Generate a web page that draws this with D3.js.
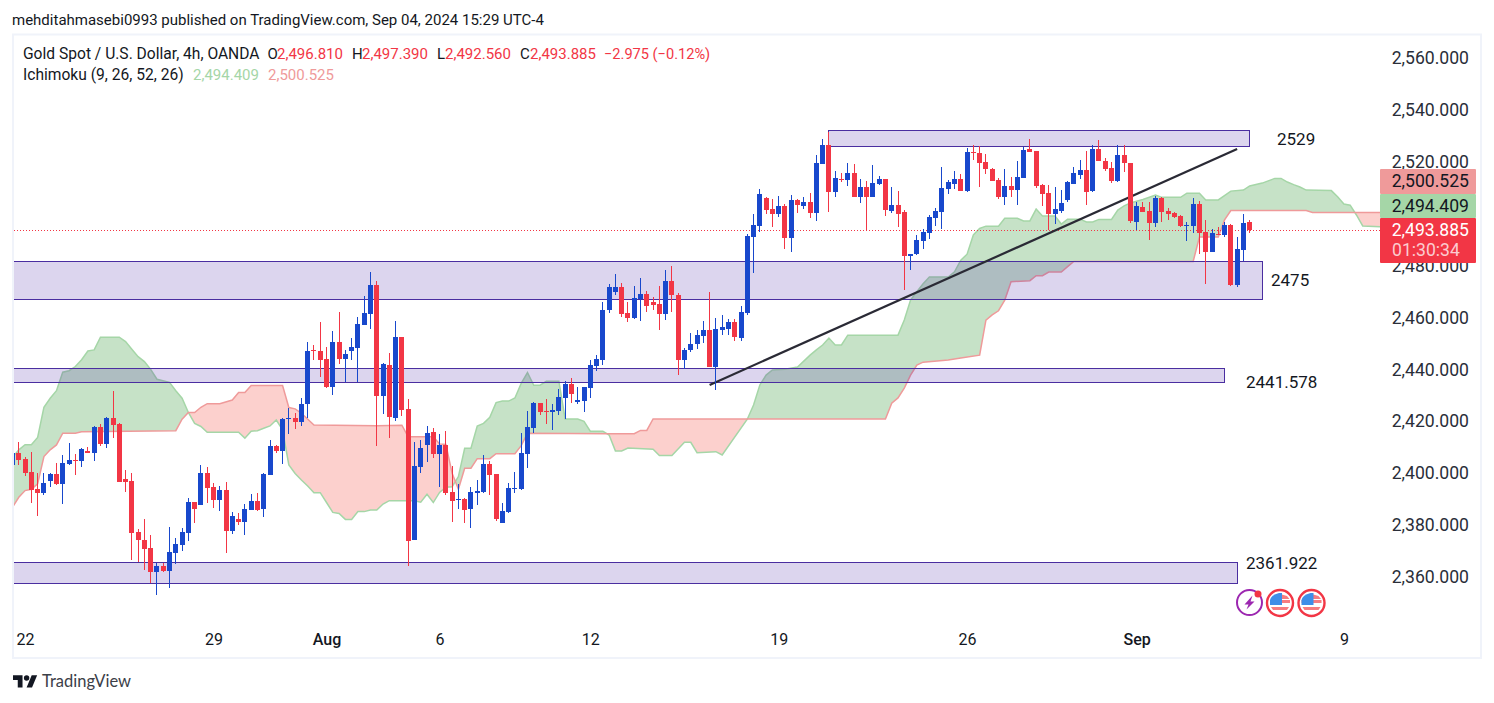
<!DOCTYPE html>
<html>
<head>
<meta charset="utf-8">
<style>
    html, body { margin: 0; padding: 0; background: #fff; }
    svg { display: block; }
    text { font-family: Roboto, sans-serif; fill: #131722; }
    .axis .domain, .axis line { display: none; }
</style>
<script src="https://cdn.jsdelivr.net/npm/d3@7"></script>
</head>
<body>
<div id="chart"></div>
<script>
// first entry of the candle arrays is bar -1 (cut off by the left edge)
var firstBar = -1;

var opens = [2403.3,2407.8,2405.5,2400.5,2393.9,2392.5,2397.1,2399.7,2396.0,2403.7,2405.1,2404.8,2408.6,2407.9,2417.8,2411.4,2421.3,2419.0,2397.8,2397.0,
    2377.4,2374.3,2371.2,2362.1,2364.2,2362.4,2369.4,2372.5,2377.1,2388.9,2387.9,2400.1,2394.7,2389.8,2393.5,2377.9,2382.4,2381.3,2385.8,2389.3,
    2386.3,2399.4,2410.5,2408.7,2421.0,2421.3,2419.9,2426.8,2447.5,2447.1,2444.0,2433.4,2450.6,2444.2,2446.9,2448.4,2457.3,2461.5,2472.6,2429.9,
    2441.7,2421.4,2452.5,2424.8,2374.3,2402.5,2410.9,2415.9,2407.5,2410.9,2392.8,2389.8,2390.1,2386.3,2392.5,2392.8,2403.5,2399.7,2380.9,2385.2,
    2394.0,2394.0,2407.5,2417.6,2427.1,2424.0,2423.4,2424.1,2429.1,2434.4,2427.5,2428.0,2433.0,2441.3,2443.8,2462.7,2469.9,2471.8,2461.8,2459.8,
    2467.0,2469.1,2466.0,2465.2,2461.5,2474.1,2468.7,2443.8,2447.6,2449.6,2453.0,2455.2,2440.8,2455.3,2455.6,2458.3,2452.1,2461.8,2491.1,2495.2,
    2506.0,2501.8,2499.9,2502.9,2490.6,2505.3,2502.9,2504.5,2500.2,2519.1,2526.5,2508.3,2513.4,2513.0,2515.7,2506.4,2510.3,2506.4,2511.4,2513.4,
    2501.0,2503.3,2500.6,2483.7,2484.4,2489.5,2492.5,2498.3,2500.6,2509.5,2511.4,2513.4,2508.7,2523.8,2523.4,2519.9,2517.2,2513.0,2506.4,2510.7,
    2509.1,2513.7,2524.9,2524.1,2511.0,2508.0,2499.9,2501.0,2505.3,2511.4,2514.9,2516.8,2508.7,2524.9,2520.3,2517.6,2512.6,2522.8,2519.5,2496.8,
    2502.6,2501.0,2496.4,2506.1,2501.0,2500.3,2499.1,2495.3,2495.3,2503.7,2493.0,2485.2,2492.2,2491.8,2495.7,2472.5,2486.0,2496.81];

var closes = [2407.8,2405.2,2400.2,2393.7,2392.5,2396.2,2399.7,2396.0,2403.9,2405.1,2404.8,2409.3,2407.9,2417.8,2411.3,2421.3,2418.7,2396.7,2396.7,2377.1,
    2374.4,2370.9,2362.1,2364.2,2362.4,2369.6,2372.7,2377.4,2388.9,2386.3,2400.1,2394.4,2389.8,2393.5,2377.9,2383.5,2381.3,2386.2,2389.3,2385.8,
    2399.7,2410.5,2408.7,2420.9,2421.3,2419.9,2426.7,2447.1,2447.2,2443.8,2433.2,2450.6,2444.2,2446.0,2448.7,2457.5,2461.8,2472.6,2429.9,2442.1,
    2421.8,2452.5,2424.5,2374.0,2402.8,2409.7,2415.5,2407.5,2410.9,2392.5,2389.4,2390.1,2386.0,2392.8,2393.2,2403.5,2399.4,2382.5,2385.4,2394.3,
    2394.3,2407.8,2417.8,2427.1,2423.4,2423.7,2424.4,2429.4,2434.4,2430.7,2428.2,2433.2,2441.7,2444.0,2462.9,2471.8,2471.8,2461.5,2459.8,2467.6,
    2469.1,2464.6,2465.0,2461.5,2474.1,2468.5,2443.8,2447.5,2449.8,2453.3,2455.2,2440.8,2455.6,2456.4,2458.3,2452.3,2462.2,2491.4,2495.6,2507.6,
    2501.4,2499.9,2502.9,2490.6,2505.3,2503.3,2504.5,2500.2,2519.5,2526.5,2508.3,2513.7,2513.0,2515.7,2506.4,2510.3,2506.4,2511.8,2513.4,2501.4,
    2503.3,2499.9,2483.7,2484.4,2489.8,2492.9,2498.7,2501.0,2509.9,2512.2,2513.4,2508.7,2523.8,2523.4,2519.5,2517.2,2512.6,2506.4,2510.7,2509.1,
    2514.1,2524.5,2523.8,2510.7,2507.6,2499.9,2501.8,2504.1,2512.2,2515.7,2516.8,2508.3,2524.9,2520.3,2517.2,2512.6,2522.6,2519.5,2497.3,2503.0,
    2500.7,2496.4,2506.1,2500.7,2499.9,2498.7,2495.3,2495.7,2503.7,2492.6,2485.2,2492.6,2491.8,2495.7,2472.5,2486.4,2496.4,2493.885];

var highs = [2409.0,2412.0,2406.4,2408.2,2400.0,2400.0,2400.1,2403.9,2407.0,2411.7,2407.4,2409.6,2410.1,2418.2,2419.0,2421.7,2431.7,2419.4,2401.2,2400.1,
    2378.5,2382.4,2376.2,2365.5,2365.5,2379.3,2375.0,2378.9,2390.5,2388.9,2403.2,2402.4,2396.2,2395.1,2396.6,2385.1,2384.7,2388.1,2392.0,2392.4,
    2400.1,2412.8,2410.9,2421.2,2425.1,2423.2,2429.0,2450.6,2449.4,2458.3,2448.7,2454.8,2462.2,2447.5,2452.1,2460.2,2468.3,2477.6,2474.1,2442.5,
    2446.3,2458.7,2452.5,2428.6,2412.0,2412.8,2418.2,2417.4,2415.1,2416.3,2402.8,2395.8,2390.5,2394.7,2397.4,2407.0,2404.7,2399.7,2388.5,2396.2,
    2400.5,2415.5,2424.0,2427.5,2427.1,2428.6,2426.7,2432.5,2435.6,2436.7,2433.2,2433.2,2443.7,2445.6,2466.0,2472.9,2476.8,2473.3,2466.0,2472.2,
    2475.3,2470.2,2467.9,2472.2,2478.3,2479.9,2469.5,2448.3,2454.1,2455.2,2458.7,2469.9,2459.8,2461.0,2459.5,2459.5,2464.5,2492.2,2499.9,2509.5,
    2506.4,2505.6,2506.8,2503.7,2507.2,2505.6,2506.4,2508.0,2522.6,2528.8,2531.5,2516.4,2515.7,2519.5,2519.1,2513.4,2512.6,2518.8,2514.5,2513.4,
    2510.3,2508.7,2501.4,2484.4,2491.8,2494.1,2499.5,2502.2,2518.0,2513.0,2516.4,2515.3,2525.3,2526.5,2526.1,2523.0,2517.6,2513.7,2517.2,2514.1,
    2520.3,2525.7,2528.8,2524.1,2511.4,2511.0,2510.3,2509.1,2512.6,2518.0,2520.7,2524.1,2526.5,2528.4,2521.5,2519.9,2526.5,2526.6,2519.5,2504.5,
    2504.5,2504.5,2506.8,2506.4,2502.2,2500.7,2499.5,2496.8,2506.1,2504.9,2497.6,2494.1,2494.9,2496.8,2496.0,2491.0,2499.9,2497.39];

var lows = [2402.0,2403.3,2399.1,2388.7,2383.6,2391.7,2394.8,2395.5,2388.3,2403.3,2399.4,2402.5,2407.8,2404.8,2410.6,2409.9,2413.7,2396.7,2392.9,2366.7,
    2365.7,2362.7,2357.6,2353.2,2362.1,2355.9,2365.1,2370.1,2374.0,2380.9,2387.9,2388.7,2386.7,2385.6,2369.4,2376.7,2380.2,2376.3,2385.8,2385.6,
    2383.3,2399.4,2407.9,2403.7,2415.2,2417.2,2418.0,2421.4,2443.8,2437.2,2432.9,2430.3,2442.2,2435.2,2443.7,2435.2,2457.3,2455.7,2410.6,2422.8,
    2413.7,2420.3,2422.2,2364.4,2374.3,2400.2,2404.5,2406.0,2394.8,2391.7,2381.3,2386.3,2380.9,2379.0,2387.9,2392.5,2391.7,2381.7,2380.9,2384.8,
    2392.5,2393.7,2402.1,2415.6,2422.6,2419.1,2416.8,2422.6,2421.0,2427.2,2426.8,2423.7,2429.1,2439.5,2441.8,2461.9,2468.5,2460.1,2458.4,2459.3,
    2458.8,2462.3,2462.7,2455.3,2459.2,2462.3,2438.0,2440.3,2446.6,2448.0,2450.3,2440.8,2432.2,2453.4,2453.3,2450.8,2450.8,2460.9,2477.1,2493.1,
    2499.9,2494.9,2498.7,2486.4,2485.2,2500.2,2501.8,2498.3,2497.2,2519.1,2500.6,2506.4,2512.2,2510.7,2506.4,2504.1,2493.6,2506.4,2511.0,2499.1,
    2500.2,2494.9,2470.6,2478.3,2484.1,2486.4,2490.2,2495.2,2494.1,2507.6,2509.5,2508.7,2508.3,2520.7,2510.3,2515.3,2512.6,2505.6,2503.3,2506.4,
    2503.3,2513.7,2523.6,2509.9,2502.9,2493.7,2496.0,2500.2,2504.5,2511.4,2513.4,2503.3,2508.3,2520.3,2516.4,2511.8,2512.1,2516.1,2496.6,2493.7,
    2500.7,2489.9,2494.9,2496.8,2497.6,2498.4,2494.9,2489.5,2492.6,2484.5,2472.9,2485.2,2491.8,2491.0,2472.1,2471.8,2481.6,2492.56];

// Ichimoku leading spans, turning points only, bar number and price
var spanABars = [-2,-1,0,1,2,3,4,5,6,7,8,9,10,11,12,13,16,17,18,19,20,21,22,24,25,26,27,28,29,30,35,36,37,38,39,40,41,42,43,44,45,46,47,48,49,50,51,52,53,54,55,56,57,
    58,59,63,64,65,66,67,68,69,70,71,72,73,74,75,76,77,78,79,80,81,82,83,84,86,87,89,90,91,93,94,95,96,97,101,102,104,106,107,108,111,112,116,
    117,118,119,120,122,124,126,127,128,129,130,131,132,140,141,142,143,144,145,148,149,150,151,152,153,154,156,157,159,160,161,162,163,165,166,167,169,170,171,172,174,175,
    176,177,179,181,182,185,186,188,189,191,193,195,196,198,200,201,202,203,204,205,209,210,211,212,213,214,222];
var spanA = [2403.0,2406.0,2409.0,2411.0,2411.0,2413.8,2425.4,2428.9,2431.8,2438.9,2439.5,2441.1,2443.7,2447.1,2447.5,2452.4,2452.4,2450.7,2447.8,2444.9,2443.0,2440.0,2436.2,2435.0,2431.8,2428.9,2423.4,2419.2,2418.0,2415.8,2415.8,2413.5,2416.2,2416.4,2417.3,2418.2,2420.5,2416.7,2403.2,2399.9,2397.4,2395.1,2392.5,2392.5,2388.7,2384.9,2384.5,2382.2,2382.2,2385.2,2385.2,2385.8,2385.8,
    2388.1,2389.4,2389.4,2388.8,2391.9,2388.7,2392.6,2394.6,2394.8,2398.7,2409.6,2409.6,2418.2,2419.2,2421.5,2427.2,2427.8,2427.8,2429.0,2434.6,2438.8,2433.9,2433.9,2435.4,2435.4,2420.9,2420.9,2420.0,2416.2,2416.2,2414.7,2408.6,2408.6,2409.7,2409.2,2406.8,2406.8,2411.9,2411.9,2407.9,2408.3,2407.0,2420.8,
    2426.3,2434.0,2437.8,2439.8,2440.1,2440.9,2445.5,2447.5,2449.4,2452.1,2449.4,2449.4,2453.2,2453.2,2459.0,2466.7,2469.9,2473.0,2475.6,2475.6,2477.6,2482.1,2484.4,2491.8,2494.3,2495.2,2495.2,2498.2,2498.2,2497.2,2497.2,2501.8,2499.1,2499.1,2496.0,2497.9,2497.9,2496.8,2496.8,2497.8,2497.8,2501.4,
    2503.0,2504.1,2505.5,2507.2,2506.3,2506.3,2507.9,2507.9,2505.3,2505.3,2508.7,2509.1,2510.7,2511.8,2513.6,2513.6,2512.2,2511.2,2510.3,2509.1,2508.9,2506.5,2503.7,2503.3,2499.5,2495.3,2494.4];

var spanBBars = [-2,-1,0,1,2,3,4,5,6,7,9,10,25,26,27,28,29,30,32,34,35,36,37,42,43,44,45,47,57,
    61,62,66,67,68,69,70,71,72,73,75,76,79,80,81,94,98,99,100,101,138,139,140,141,142,143,144,148,150,153,154,155,156,157,158,161,162,163,164,166,167,168,187,188,191,192,193,205,206,222];
var spanB = [2383.0,2386.9,2390.7,2393.3,2393.8,2395.9,2406.4,2409.0,2410.9,2415.4,2415.4,2416.0,2416.4,2420.8,2423.4,2423.4,2425.4,2426.8,2426.8,2428.2,2431.1,2431.1,2433.8,2433.8,2425.3,2424.8,2423.1,2418.6,2418.3,
    2418.5,2414.0,2414.0,2411.3,2411.1,2400.0,2393.8,2401.9,2401.9,2405.6,2405.6,2407.5,2407.5,2410.6,2415.4,2415.2,2415.2,2416.5,2416.5,2420.9,2420.9,2427.0,2429.0,2432.8,2437.8,2441.7,2442.8,2443.6,2444.4,2445.5,2459.0,2461.0,2462.6,2466.7,2473.8,2474.2,2476.1,2476.1,2477.5,2477.5,2479.6,2481.6,2481.6,2491.0,2491.0,2497.6,2501.2,2501.2,2500.5,2500.5];

// drawn price zones, top and bottom price, last bar
var zoneTops = [2532.3, 2481.6, 2440.7, 2365.6];
var zoneBottoms = [2525.9, 2467.1, 2435.0, 2357.6];
var zoneFirstBars = [129, -4, -4, -4];
var zoneLastBars = [196, 198, 192, 194];
var zoneNames = ["2529", "2475", "2441.578", "2361.922"];

var trendBars = [110, 194];
var trendPrices = [2434, 2524.9];

// 2,500 is left out, it sits behind the price labels
var priceTicks = [2360, 2380, 2400, 2420, 2440, 2460, 2480, 2520, 2540, 2560];
var timeBars = [1, 31, 49, 67, 91, 121, 151, 178, 211];
var timeLabels = ["22", "29", "Aug", "6", "12", "19", "26", "Sep", "9"];

var lastPrice = 2493.885;

var upColor = "#1848cc",
    downColor = "#f23645";

var width = 1494,
    height = 703,
    plot = { left: 14, right: 1380, top: 36, bottom: 657 };

var x = d3.scaleLinear().domain([0, 196]).range([18.8, 1249.68]);
var y = d3.scaleLinear().domain([2360, 2560]).range([577, 58]);

var svg = d3.select("#chart").append("svg")
    .attr("width", width)
    .attr("height", height);

var defs = svg.append("defs");

defs.append("clipPath").attr("id", "plotClip").append("rect")
    .attr("x", plot.left)
    .attr("y", plot.top)
    .attr("width", plot.right - plot.left)
    .attr("height", plot.bottom - plot.top);

var spanAPoints = spanABars.map(function(b, i) { return { bar: b, price: spanA[i] }; });
var spanBPoints = spanBBars.map(function(b, i) { return { bar: b, price: spanB[i] }; });

var line = d3.line()
    .x(function(d) { return x(d.bar); })
    .y(function(d) { return y(d.price); });

function areaTo(edge) {
    return d3.area()
        .x(function(d) { return x(d.bar); })
        .y0(edge)
        .y1(function(d) { return y(d.price); });
}

// clip on span B: green shows above it, red below it
defs.append("clipPath").attr("id", "aboveB").append("path").attr("d", areaTo(plot.top)(spanBPoints));
defs.append("clipPath").attr("id", "belowB").append("path").attr("d", areaTo(plot.bottom)(spanBPoints));

// frame
svg.append("rect")
    .attr("x", 13)
    .attr("y", 34.5)
    .attr("width", 1468)
    .attr("height", 623.5)
    .attr("fill", "#fff")
    .attr("stroke", "#f0f3fa")
    .attr("stroke-width", 2);

var chart = svg.append("g").attr("clip-path", "url(#plotClip)");

// cloud
chart.append("g").attr("clip-path", "url(#aboveB)").append("path")
    .attr("d", areaTo(plot.bottom)(spanAPoints))
    .attr("fill", "rgba(67,160,71,0.3)");
chart.append("g").attr("clip-path", "url(#belowB)").append("path")
    .attr("d", areaTo(plot.top)(spanAPoints))
    .attr("fill", "rgba(244,67,54,0.25)");
chart.append("path")
    .attr("d", line(spanAPoints))
    .attr("fill", "none")
    .attr("stroke", "#a5d6a7")
    .attr("stroke-width", 1.5);
chart.append("path")
    .attr("d", line(spanBPoints))
    .attr("fill", "none")
    .attr("stroke", "#ef9a9a")
    .attr("stroke-width", 1.5);

// zones
chart.selectAll(".zone")
    .data(zoneTops)
    .enter().append("rect")
    .attr("class", "zone")
    .attr("x", function(d, i) { return Math.floor(x(zoneFirstBars[i])) + 0.5; })
    .attr("y", function(d) { return Math.round(y(d)) + 0.5; })
    .attr("width", function(d, i) { return Math.floor(x(zoneLastBars[i])) - Math.floor(x(zoneFirstBars[i])); })
    .attr("height", function(d, i) { return Math.round(y(zoneBottoms[i])) - Math.round(y(d)); })
    .attr("fill", "rgba(81,45,168,0.2)")
    .attr("stroke", "#4a2ea0")
    .attr("stroke-width", 1);

// last price line
chart.append("line")
    .attr("x1", plot.left)
    .attr("x2", plot.right)
    .attr("y1", Math.round(y(lastPrice)) + 0.5)
    .attr("y2", Math.round(y(lastPrice)) + 0.5)
    .attr("stroke", downColor)
    .attr("stroke-dasharray", "1 2");

// trend line
chart.append("line")
    .attr("x1", x(trendBars[0]))
    .attr("y1", y(trendPrices[0]))
    .attr("x2", x(trendBars[1]))
    .attr("y2", y(trendPrices[1]))
    .attr("stroke", "#2a2a35")
    .attr("stroke-width", 2.2);

// candles
var candles = chart.append("g").attr("shape-rendering", "crispEdges");
var bars = candles.selectAll(".candle")
    .data(opens)
    .enter().append("g")
    .attr("class", "candle")
    .attr("fill", function(d, i) { return closes[i] >= d ? upColor : downColor; });

bars.append("rect")
    .attr("x", function(d, i) { return Math.floor(x(i + firstBar)); })
    .attr("y", function(d, i) { return Math.round(y(highs[i])); })
    .attr("width", 1)
    .attr("height", function(d, i) { return Math.round(y(lows[i])) - Math.round(y(highs[i])); });

bars.append("rect")
    .attr("x", function(d, i) { return Math.floor(x(i + firstBar)) - 2; })
    .attr("y", function(d, i) { return Math.round(y(Math.max(d, closes[i]))); })
    .attr("width", 5)
    .attr("height", function(d, i) {
        return Math.max(1, Math.round(y(Math.min(d, closes[i]))) - Math.round(y(Math.max(d, closes[i]))));
    });

// zone labels, placed beside each zone's right end
var zoneLabelX = [1277, 1271, 1246, 1246];
var zoneLabelY = [139, 280, 382, 563];
svg.selectAll(".zoneLabel")
    .data(zoneNames)
    .enter().append("text")
    .attr("class", "zoneLabel")
    .attr("x", function(d, i) { return zoneLabelX[i]; })
    .attr("y", function(d, i) { return zoneLabelY[i]; })
    .attr("dy", "0.35em")
    .attr("font-size", 17)
    .text(function(d) { return d; });

// price axis
var yAxis = svg.append("g")
    .attr("class", "axis")
    .attr("transform", "translate(1469,0)")
    .call(d3.axisRight(y).tickValues(priceTicks).tickSize(0).tickFormat(d3.format(",.3f")));
yAxis.selectAll("text")
    .attr("x", 0)
    .attr("text-anchor", "end")
    .attr("font-family", "Roboto, sans-serif")
    .attr("font-size", 17.6)
    .style("fill", "#2a2e39");

// time axis
var xAxis = svg.append("g")
    .attr("class", "axis")
    .attr("transform", "translate(0,631)")
    .call(d3.axisBottom(x).tickValues(timeBars).tickSize(0).tickFormat(function(d, i) { return timeLabels[i]; }));
xAxis.selectAll("text")
    .attr("y", 0)
    .attr("dy", "0.9em")
    .attr("font-family", "Roboto, sans-serif")
    .attr("font-size", 16)
    .attr("font-weight", function(d, i) { return timeLabels[i] == "Aug" || timeLabels[i] == "Sep" ? 500 : 400; })
    .style("fill", "#131722");

// price labels on the scale
var labelTexts = ["2,500.525", "2,494.409", "2,493.885"];
var labelFills = ["#ef9a9a", "#a5d6a7", "#f23645"];
var labelTextFills = ["#131722", "#131722", "#fff"];
var labelTops = [169, 194, 218];
var labelHeights = [25, 24, 45];
var labelCenters = [181, 206, 230];
svg.selectAll(".priceBox")
    .data(labelFills)
    .enter().append("rect")
    .attr("class", "priceBox")
    .attr("x", 1380)
    .attr("y", function(d, i) { return labelTops[i]; })
    .attr("width", 96)
    .attr("height", function(d, i) { return labelHeights[i]; })
    .attr("rx", 1)
    .attr("fill", function(d) { return d; });
svg.selectAll(".priceBoxText")
    .data(labelTexts)
    .enter().append("text")
    .attr("class", "priceBoxText")
    .attr("x", 1469)
    .attr("y", function(d, i) { return labelCenters[i]; })
    .attr("dy", "0.35em")
    .attr("text-anchor", "end")
    .attr("font-size", 17.6)
    .style("fill", function(d, i) { return labelTextFills[i]; })
    .text(function(d) { return d; });
svg.append("text")
    .attr("x", 1392)
    .attr("y", 250)
    .attr("dy", "0.35em")
    .attr("font-size", 17.6)
    .style("fill", "rgba(255,255,255,0.75)")
    .text("01:30:34");

// header
svg.append("text")
    .attr("x", 12)
    .attr("y", 25)
    .attr("font-size", 15)
    .text("mehditahmasebi0993 published on TradingView.com, Sep 04, 2024 15:29 UTC-4");

var legendRows = [
    { x: 23, y: 59, s: 15.6, t: "Gold Spot / U.S. Dollar, 4h, OANDA", c: "#131722" },
    { x: 267.5, y: 59, s: 15, t: "O", c: "#131722" },
    { x: 277, y: 59, s: 15, t: "2,496.810", c: "#f23645" },
    { x: 352, y: 59, s: 15, t: "H", c: "#131722" },
    { x: 362, y: 59, s: 15, t: "2,497.390", c: "#f23645" },
    { x: 437, y: 59, s: 15, t: "L", c: "#131722" },
    { x: 445, y: 59, s: 15, t: "2,492.560", c: "#f23645" },
    { x: 520, y: 59, s: 15, t: "C", c: "#131722" },
    { x: 530, y: 59, s: 15, t: "2,493.885", c: "#f23645" },
    { x: 604, y: 59, s: 14.6, t: "\u22122.975 (\u22120.12%)", c: "#f23645" },
    { x: 23, y: 80, s: 15.6, t: "Ichimoku (9, 26, 52, 26)", c: "#131722" },
    { x: 193, y: 80, s: 15, t: "2,494.409", c: "#a5d6a7" },
    { x: 268, y: 80, s: 15, t: "2,500.525", c: "#ef9a9a" }
];
svg.selectAll(".legend")
    .data(legendRows)
    .enter().append("text")
    .attr("class", "legend")
    .attr("x", function(d) { return d.x; })
    .attr("y", function(d) { return d.y; })
    .attr("font-size", function(d) { return d.s; })
    .style("fill", function(d) { return d.c; })
    .text(function(d) { return d.t; });

// event icons
var lightning = svg.append("g").attr("transform", "translate(1249.5,602.5)");
lightning.append("circle").attr("r", 12.5).attr("fill", "#fff").attr("stroke", "#9c27b0").attr("stroke-width", 2);
lightning.append("path").attr("d", "M3,-7 L-5,2 L-1,2 L-3,7 L5,-1 L1,-1 Z").attr("fill", "#9c27b0");
lightning.append("circle").attr("cx", 8.5).attr("cy", -8.5).attr("r", 3.5).attr("fill", "#f23645");

function flag(cx) {
    var g = svg.append("g").attr("transform", "translate(" + cx + ",603)");
    g.append("circle").attr("r", 13).attr("fill", "#fff").attr("stroke", "#f23645").attr("stroke-width", 2.4);
    g.append("path").attr("d", "M-10,-3 H10 V0 H-10 Z M-9,4 H9 L7,7 H-7 Z M0,-9 L7,-7 L9.5,-4 H0 Z").attr("fill", "#f77c80");
    g.append("path").attr("d", "M-10,2 L-10,-3 Q-9,-8 -1,-10 L2,-10 V2 Z").attr("fill", "#3f8ee8");
}
flag(1280);
flag(1311.5);

// logo
var logo = svg.append("g").attr("transform", "translate(13,672.5) scale(0.68)");
logo.append("path").attr("d", "M14 22H7V11H0V4h14v18zM28 22h-8l7.5-18h8L28 22z").attr("fill", "#131722");
logo.append("circle").attr("cx", 20).attr("cy", 8).attr("r", 4).attr("fill", "#131722");
svg.append("text")
    .attr("x", 42)
    .attr("y", 687)
    .style("font-family", "Lato, sans-serif")
    .style("fill", "#3c4048")
    .attr("font-size", 16.5)
    .text("TradingView");
</script>
</body>
</html>
